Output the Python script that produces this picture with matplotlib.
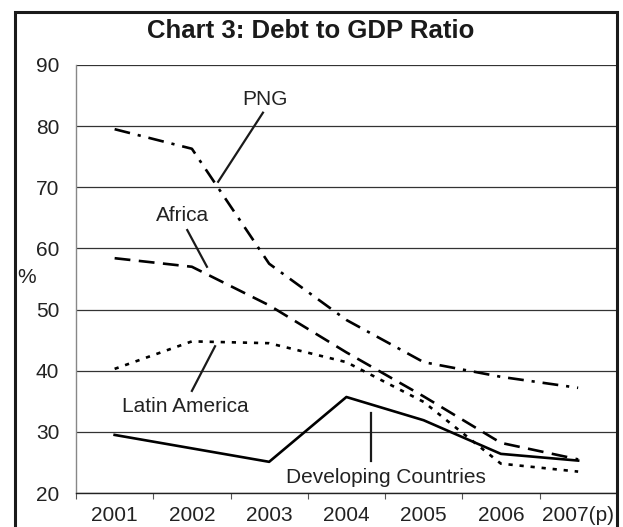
import matplotlib
matplotlib.use("Agg")
import matplotlib.pyplot as plt
from matplotlib.patches import Rectangle

plt.rcParams['font.family'] = ['Liberation Sans', 'DejaVu Sans']

years = ["2001", "2002", "2003", "2004", "2005", "2006", "2007(p)"]
png = [79.5, 76.3, 57.5, 48.3, 41.4, 39.0, 37.2]
africa = [58.4, 57.0, 50.7, 43.0, 35.8, 28.2, 25.5]
latin_america = [40.3, 44.8, 44.5, 41.4, 34.9, 24.8, 23.5]
developing = [29.5, 27.3, 25.1, 35.7, 31.9, 26.4, 25.3]

text_color = '#222222'

fig = plt.figure(figsize=(6.23, 5.27), dpi=100)
ax = fig.add_axes([0.122, 0.0645, 0.868, 0.8122])

x = list(range(len(years)))
lw = 1.9
ax.plot(x, png, color='black', lw=lw, linestyle=(0, (6, 3, 1.2, 3)), zorder=3)
ax.plot(x, africa, color='black', lw=lw, linestyle=(0, (6, 3.2)), zorder=3)
ax.plot(x, latin_america, color='black', lw=lw, linestyle=(0, (1.6, 2.6)), zorder=3)
ax.plot(x, developing, color='black', lw=lw, linestyle='-', zorder=3)

ax.set_xlim(-0.5, 6.5)
ax.set_ylim(20, 90)
ax.set_yticks(range(20, 91, 10))
ax.yaxis.grid(True, color='#333333', lw=0.9)
ax.set_axisbelow(True)
ax.tick_params(axis='y', length=0, labelsize=15, pad=12, labelcolor=text_color)

ax.set_xticks(x)
ax.set_xticklabels(years)
ax.set_xticks([i - 0.5 for i in range(len(years))], minor=True)
ax.tick_params(axis='x', which='major', length=0, labelsize=15, pad=9,
               labelcolor=text_color)
ax.tick_params(axis='x', which='minor', length=4, color='#555555', width=0.8)

for side in ['top', 'right']:
    ax.spines[side].set_visible(False)
ax.spines['left'].set_color('#888888')
ax.spines['left'].set_linewidth(1.0)
ax.spines['bottom'].set_color('#222222')
ax.spines['bottom'].set_linewidth(1.0)

# series labels with leader lines
def label(text, txy, start, end):
    ax.text(txy[0], txy[1], text, ha='center', va='center', fontsize=15,
            color=text_color)
    ax.plot([start[0], end[0]], [start[1], end[1]], color='#1a1a1a', lw=1.6,
            clip_on=False, zorder=4)

label("PNG", (1.95, 84.3), (1.92, 82.2), (1.34, 70.9))
label("Africa", (0.885, 65.4), (0.94, 63.0), (1.195, 57.0))
label("Latin America", (0.91, 34.1), (1.0, 36.7), (1.30, 44.0))
label("Developing Countries", (3.51, 22.6), (3.32, 33.1), (3.32, 25.2))

fig.text(0.042, 0.474, "%", ha='center', va='center', fontsize=15, color=text_color)
fig.text(0.498, 0.941, "Chart 3: Debt to GDP Ratio", ha='center', va='center',
         fontsize=18.5, fontweight='bold', color='#1a1a1a')

# outer frame
fig.patches.append(Rectangle((0.024, -0.05), 0.967, 1.027, transform=fig.transFigure,
                             fill=False, edgecolor='#1a1a1a', lw=2.2))

fig.savefig("out.png", dpi=100)
